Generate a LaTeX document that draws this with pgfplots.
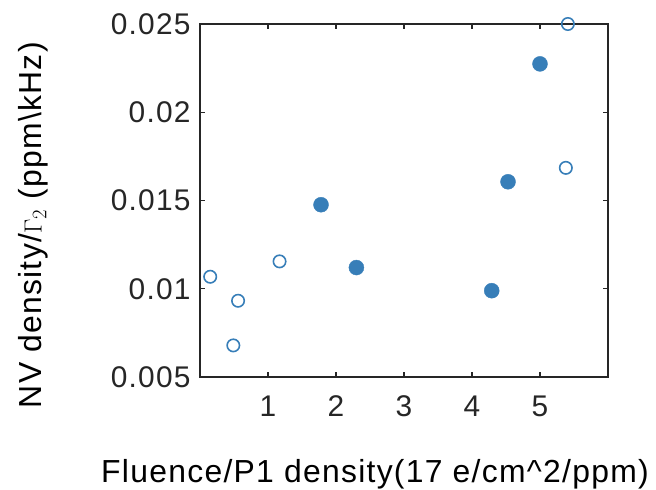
\documentclass[border=0pt]{standalone}
\usepackage{pgfplots}
\pgfplotsset{compat=1.18}
\usepackage{fontspec}
\setmainfont[LetterSpace=4]{Liberation Sans}
\definecolor{mblue}{RGB}{55,126,184}
\definecolor{tickgray}{RGB}{38,38,38}
\begin{document}
\begin{tikzpicture}
\useasboundingbox (-200bp,-113bp) rectangle (456bp,377bp);
\begin{axis}[
  at={(0,0)}, anchor=south west,
  scale only axis,
  width=408bp, height=353bp,
  xmin=0, xmax=6, ymin=0.005, ymax=0.025,
  xtick={1,2,3,4,5},
  ytick={0.005,0.01,0.015,0.02,0.025},
  yticklabels={0.005,0.01,0.015,0.02,0.025},
  scaled y ticks=false,
  tick align=inside,
  major tick length=5bp,
  axis line style={draw=black!85, line width=1.6bp},
  every tick/.style={line width=1.2bp, black!85},
  tick label style={font=\fontsize{30}{36}\selectfont, text=tickgray},
  xticklabel style={yshift=-15bp},
  yticklabel style={xshift=-6bp},
  /pgf/number format/assume math mode=true,
  xlabel={Fluence/P1 density(17 e/cm\textasciicircum 2/ppm)},
  ylabel={NV density/$\Gamma_2$ (ppm\textbackslash kHz)},
  label style={font=\fontsize{32}{36}\selectfont},
  xlabel style={at={(axis description cs:0.429,-0.300)}, anchor=base},
  ylabel style={at={(axis description cs:-0.388,0.43)}, anchor=base},
  clip=false,
]
\draw[black!85, line width=1.6bp] (rel axis cs:0,0) rectangle (rel axis cs:1,1);
\addplot[only marks, mark=*, mark size=7.5bp, mark options={draw=mblue, fill=mblue}]
coordinates {(1.78,0.01476) (2.30,0.0112) (4.29,0.00989) (4.53,0.01606) (5.0,0.02274)};
\addplot[only marks, mark=o, mark size=6.2bp, mark options={draw=mblue, line width=1.6bp}]
coordinates {(0.15,0.01068) (0.49,0.00679) (0.56,0.00932) (1.17,0.01155) (5.41,0.025) (5.38,0.01685)};
\end{axis}
\end{tikzpicture}
\end{document}
